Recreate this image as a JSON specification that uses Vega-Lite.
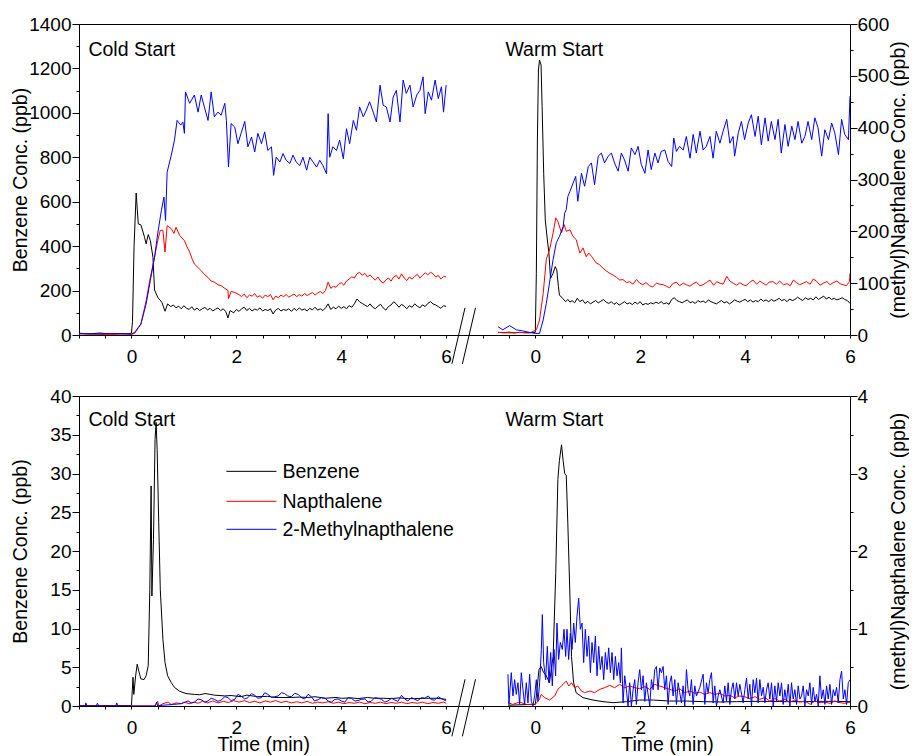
{
"$schema":"https://vega.github.io/schema/vega-lite/v6.json",
"autosize":{"type":"pad"},
"padding":{"left":10,"top":14,"right":0,"bottom":0},
"background":"white",
"bounds":"flush",
"spacing":61,
"resolve":{"scale":{"color":"independent"}},
"config":{
 "font":"Liberation Sans",
 "view":{"stroke":"black","strokeWidth":1},
 "axis":{"domainColor":"black","tickColor":"black","labelColor":"black","titleColor":"black","grid":false,"labelFontSize":19,"titleFontSize":19.5,"titleFontWeight":"normal","labelFont":"Liberation Sans","titleFont":"Liberation Sans","domainWidth":1,"tickWidth":1}
},
"datasets":{
"top":[
{"w":0,"s":"B","t":-1,"v":8},{"w":0,"s":"B","t":-0.8,"v":5},{"w":0,"s":"B","t":-0.6,"v":9},{"w":0,"s":"B","t":-0.4,"v":4},{"w":0,"s":"B","t":-0.2,"v":7},{"w":0,"s":"B","t":-0.05,"v":6},{"w":0,"s":"B","t":0,"v":8},{"w":0,"s":"B","t":0.02,"v":60},{"w":0,"s":"B","t":0.05,"v":400},{"w":0,"s":"B","t":0.09,"v":639},{"w":0,"s":"B","t":0.13,"v":500},{"w":0,"s":"B","t":0.18,"v":496},{"w":0,"s":"B","t":0.25,"v":440},{"w":0,"s":"B","t":0.28,"v":410},{"w":0,"s":"B","t":0.32,"v":452},{"w":0,"s":"B","t":0.36,"v":425},{"w":0,"s":"B","t":0.41,"v":350},{"w":0,"s":"B","t":0.44,"v":203},{"w":0,"s":"B","t":0.5,"v":170},{"w":0,"s":"B","t":0.58,"v":147},{"w":0,"s":"B","t":0.64,"v":107},{"w":0,"s":"B","t":0.69,"v":140},
{"w":0,"s":"B","t":0.75,"v":128},{"w":0,"s":"B","t":0.8,"v":135},{"w":0,"s":"B","t":0.85,"v":122},{"w":0,"s":"B","t":0.9,"v":130},{"w":0,"s":"B","t":0.95,"v":118},{"w":0,"s":"B","t":1.0,"v":132},{"w":0,"s":"B","t":1.05,"v":120},{"w":0,"s":"B","t":1.1,"v":115},{"w":0,"s":"B","t":1.15,"v":127},{"w":0,"s":"B","t":1.2,"v":112},{"w":0,"s":"B","t":1.25,"v":121},{"w":0,"s":"B","t":1.3,"v":110},{"w":0,"s":"B","t":1.35,"v":118},{"w":0,"s":"B","t":1.4,"v":124},{"w":0,"s":"B","t":1.45,"v":113},{"w":0,"s":"B","t":1.5,"v":120},{"w":0,"s":"B","t":1.55,"v":108},{"w":0,"s":"B","t":1.6,"v":116},{"w":0,"s":"B","t":1.65,"v":122},{"w":0,"s":"B","t":1.7,"v":110},{"w":0,"s":"B","t":1.75,"v":118},{"w":0,"s":"B","t":1.8,"v":105},{"w":0,"s":"B","t":1.84,"v":77},{"w":0,"s":"B","t":1.88,"v":110},{"w":0,"s":"B","t":1.95,"v":100},{"w":0,"s":"B","t":2.0,"v":115},{"w":0,"s":"B","t":2.05,"v":106},{"w":0,"s":"B","t":2.1,"v":118},{"w":0,"s":"B","t":2.15,"v":125},{"w":0,"s":"B","t":2.2,"v":110},{"w":0,"s":"B","t":2.25,"v":120},{"w":0,"s":"B","t":2.3,"v":108},{"w":0,"s":"B","t":2.35,"v":117},{"w":0,"s":"B","t":2.4,"v":112},{"w":0,"s":"B","t":2.45,"v":122},{"w":0,"s":"B","t":2.5,"v":108},{"w":0,"s":"B","t":2.55,"v":115},{"w":0,"s":"B","t":2.6,"v":110},{"w":0,"s":"B","t":2.65,"v":118},{"w":0,"s":"B","t":2.7,"v":95},{"w":0,"s":"B","t":2.75,"v":112},{"w":0,"s":"B","t":2.8,"v":120},{"w":0,"s":"B","t":2.85,"v":108},{"w":0,"s":"B","t":2.9,"v":115},{"w":0,"s":"B","t":2.95,"v":111},{"w":0,"s":"B","t":3.0,"v":118},{"w":0,"s":"B","t":3.05,"v":106},{"w":0,"s":"B","t":3.1,"v":120},{"w":0,"s":"B","t":3.15,"v":110},{"w":0,"s":"B","t":3.2,"v":122},{"w":0,"s":"B","t":3.25,"v":112},{"w":0,"s":"B","t":3.3,"v":117},{"w":0,"s":"B","t":3.35,"v":108},{"w":0,"s":"B","t":3.4,"v":120},{"w":0,"s":"B","t":3.45,"v":113},{"w":0,"s":"B","t":3.5,"v":125},{"w":0,"s":"B","t":3.55,"v":112},{"w":0,"s":"B","t":3.6,"v":118},{"w":0,"s":"B","t":3.65,"v":110},{"w":0,"s":"B","t":3.7,"v":122},{"w":0,"s":"B","t":3.75,"v":140},{"w":0,"s":"B","t":3.8,"v":115},{"w":0,"s":"B","t":3.85,"v":125},{"w":0,"s":"B","t":3.9,"v":118},{"w":0,"s":"B","t":3.95,"v":130},{"w":0,"s":"B","t":4.0,"v":120},{"w":0,"s":"B","t":4.05,"v":128},{"w":0,"s":"B","t":4.1,"v":118},{"w":0,"s":"B","t":4.15,"v":132},{"w":0,"s":"B","t":4.2,"v":125},{"w":0,"s":"B","t":4.25,"v":140},{"w":0,"s":"B","t":4.3,"v":162},{"w":0,"s":"B","t":4.35,"v":150},{"w":0,"s":"B","t":4.4,"v":142},{"w":0,"s":"B","t":4.45,"v":135},{"w":0,"s":"B","t":4.5,"v":128},{"w":0,"s":"B","t":4.55,"v":140},{"w":0,"s":"B","t":4.6,"v":125},{"w":0,"s":"B","t":4.65,"v":118},{"w":0,"s":"B","t":4.7,"v":130},{"w":0,"s":"B","t":4.75,"v":138},{"w":0,"s":"B","t":4.8,"v":122},{"w":0,"s":"B","t":4.85,"v":112},{"w":0,"s":"B","t":4.9,"v":128},{"w":0,"s":"B","t":4.95,"v":135},{"w":0,"s":"B","t":5.0,"v":150},{"w":0,"s":"B","t":5.05,"v":140},{"w":0,"s":"B","t":5.1,"v":125},{"w":0,"s":"B","t":5.15,"v":138},{"w":0,"s":"B","t":5.2,"v":130},{"w":0,"s":"B","t":5.25,"v":118},{"w":0,"s":"B","t":5.3,"v":132},{"w":0,"s":"B","t":5.35,"v":125},{"w":0,"s":"B","t":5.4,"v":140},{"w":0,"s":"B","t":5.45,"v":130},{"w":0,"s":"B","t":5.5,"v":122},{"w":0,"s":"B","t":5.55,"v":136},{"w":0,"s":"B","t":5.6,"v":128},{"w":0,"s":"B","t":5.65,"v":142},{"w":0,"s":"B","t":5.7,"v":150},{"w":0,"s":"B","t":5.75,"v":140},{"w":0,"s":"B","t":5.8,"v":135},{"w":0,"s":"B","t":5.85,"v":128},{"w":0,"s":"B","t":5.9,"v":120},{"w":0,"s":"B","t":5.95,"v":132},{"w":0,"s":"B","t":6.0,"v":129},
{"w":0,"s":"N","t":-1,"v":2},{"w":0,"s":"N","t":-0.5,"v":1},{"w":0,"s":"N","t":-0.1,"v":2},{"w":0,"s":"N","t":0,"v":1},{"w":0,"s":"N","t":0.06,"v":3},{"w":0,"s":"N","t":0.18,"v":21},{"w":0,"s":"N","t":0.28,"v":66},{"w":0,"s":"N","t":0.36,"v":111},{"w":0,"s":"N","t":0.44,"v":150},{"w":0,"s":"N","t":0.5,"v":182},{"w":0,"s":"N","t":0.55,"v":202},{"w":0,"s":"N","t":0.6,"v":202},{"w":0,"s":"N","t":0.64,"v":160},{"w":0,"s":"N","t":0.68,"v":211},{"w":0,"s":"N","t":0.76,"v":205},{"w":0,"s":"N","t":0.81,"v":196},{"w":0,"s":"N","t":0.85,"v":208},{"w":0,"s":"N","t":0.92,"v":192},{"w":0,"s":"N","t":1.01,"v":182},{"w":0,"s":"N","t":1.06,"v":170},{"w":0,"s":"N","t":1.11,"v":160},{"w":0,"s":"N","t":1.16,"v":146},{"w":0,"s":"N","t":1.2,"v":137},{"w":0,"s":"N","t":1.27,"v":130},{"w":0,"s":"N","t":1.33,"v":124},{"w":0,"s":"N","t":1.4,"v":116},{"w":0,"s":"N","t":1.46,"v":111},{"w":0,"s":"N","t":1.52,"v":104},{"w":0,"s":"N","t":1.58,"v":102},{"w":0,"s":"N","t":1.65,"v":97},{"w":0,"s":"N","t":1.71,"v":95},{"w":0,"s":"N","t":1.78,"v":90},{"w":0,"s":"N","t":1.84,"v":86},{"w":0,"s":"N","t":1.85,"v":70},{"w":0,"s":"N","t":1.9,"v":84},{"w":0,"s":"N","t":1.97,"v":82},
{"w":0,"s":"N","t":2.05,"v":78},{"w":0,"s":"N","t":2.1,"v":74},{"w":0,"s":"N","t":2.15,"v":79},{"w":0,"s":"N","t":2.2,"v":72},{"w":0,"s":"N","t":2.25,"v":77},{"w":0,"s":"N","t":2.3,"v":75},{"w":0,"s":"N","t":2.35,"v":80},{"w":0,"s":"N","t":2.4,"v":73},{"w":0,"s":"N","t":2.45,"v":76},{"w":0,"s":"N","t":2.5,"v":71},{"w":0,"s":"N","t":2.55,"v":77},{"w":0,"s":"N","t":2.6,"v":74},{"w":0,"s":"N","t":2.65,"v":78},{"w":0,"s":"N","t":2.7,"v":68},{"w":0,"s":"N","t":2.75,"v":75},{"w":0,"s":"N","t":2.8,"v":72},{"w":0,"s":"N","t":2.85,"v":77},{"w":0,"s":"N","t":2.9,"v":74},{"w":0,"s":"N","t":2.95,"v":78},{"w":0,"s":"N","t":3.0,"v":73},{"w":0,"s":"N","t":3.05,"v":76},{"w":0,"s":"N","t":3.1,"v":79},{"w":0,"s":"N","t":3.15,"v":74},{"w":0,"s":"N","t":3.2,"v":78},{"w":0,"s":"N","t":3.25,"v":75},{"w":0,"s":"N","t":3.3,"v":80},{"w":0,"s":"N","t":3.35,"v":76},{"w":0,"s":"N","t":3.4,"v":79},{"w":0,"s":"N","t":3.45,"v":82},{"w":0,"s":"N","t":3.5,"v":77},{"w":0,"s":"N","t":3.55,"v":81},{"w":0,"s":"N","t":3.6,"v":84},{"w":0,"s":"N","t":3.65,"v":80},{"w":0,"s":"N","t":3.7,"v":86},{"w":0,"s":"N","t":3.75,"v":102},{"w":0,"s":"N","t":3.8,"v":90},{"w":0,"s":"N","t":3.85,"v":94},{"w":0,"s":"N","t":3.9,"v":92},{"w":0,"s":"N","t":3.95,"v":98},{"w":0,"s":"N","t":4.0,"v":101},{"w":0,"s":"N","t":4.05,"v":96},{"w":0,"s":"N","t":4.1,"v":104},{"w":0,"s":"N","t":4.15,"v":108},{"w":0,"s":"N","t":4.2,"v":112},{"w":0,"s":"N","t":4.25,"v":110},{"w":0,"s":"N","t":4.3,"v":118},{"w":0,"s":"N","t":4.35,"v":121},{"w":0,"s":"N","t":4.4,"v":115},{"w":0,"s":"N","t":4.45,"v":119},{"w":0,"s":"N","t":4.5,"v":112},{"w":0,"s":"N","t":4.55,"v":116},{"w":0,"s":"N","t":4.6,"v":110},{"w":0,"s":"N","t":4.65,"v":106},{"w":0,"s":"N","t":4.7,"v":112},{"w":0,"s":"N","t":4.75,"v":104},{"w":0,"s":"N","t":4.8,"v":100},{"w":0,"s":"N","t":4.85,"v":106},{"w":0,"s":"N","t":4.9,"v":110},{"w":0,"s":"N","t":4.95,"v":104},{"w":0,"s":"N","t":5.0,"v":112},{"w":0,"s":"N","t":5.05,"v":115},{"w":0,"s":"N","t":5.1,"v":108},{"w":0,"s":"N","t":5.15,"v":118},{"w":0,"s":"N","t":5.2,"v":110},{"w":0,"s":"N","t":5.25,"v":105},{"w":0,"s":"N","t":5.3,"v":112},{"w":0,"s":"N","t":5.35,"v":108},{"w":0,"s":"N","t":5.4,"v":113},{"w":0,"s":"N","t":5.45,"v":117},{"w":0,"s":"N","t":5.5,"v":110},{"w":0,"s":"N","t":5.55,"v":115},{"w":0,"s":"N","t":5.6,"v":120},{"w":0,"s":"N","t":5.65,"v":116},{"w":0,"s":"N","t":5.7,"v":121},{"w":0,"s":"N","t":5.75,"v":118},{"w":0,"s":"N","t":5.8,"v":112},{"w":0,"s":"N","t":5.85,"v":115},{"w":0,"s":"N","t":5.9,"v":108},{"w":0,"s":"N","t":5.95,"v":113},{"w":0,"s":"N","t":6.0,"v":112},
{"w":0,"s":"M","t":-1,"v":3},{"w":0,"s":"M","t":-0.7,"v":2},{"w":0,"s":"M","t":-0.4,"v":3},{"w":0,"s":"M","t":-0.1,"v":2},{"w":0,"s":"M","t":0,"v":2},{"w":0,"s":"M","t":0.06,"v":5},{"w":0,"s":"M","t":0.18,"v":21},{"w":0,"s":"M","t":0.28,"v":60},{"w":0,"s":"M","t":0.36,"v":105},{"w":0,"s":"M","t":0.44,"v":150},{"w":0,"s":"M","t":0.5,"v":195},{"w":0,"s":"M","t":0.57,"v":240},{"w":0,"s":"M","t":0.62,"v":266},{"w":0,"s":"M","t":0.65,"v":221},{"w":0,"s":"M","t":0.68,"v":314},{"w":0,"s":"M","t":0.76,"v":347},{"w":0,"s":"M","t":0.82,"v":376},{"w":0,"s":"M","t":0.87,"v":414},{"w":0,"s":"M","t":0.94,"v":405},{"w":0,"s":"M","t":0.98,"v":411},{"w":0,"s":"M","t":1.01,"v":389},{"w":0,"s":"M","t":1.03,"v":469},{"w":0,"s":"M","t":1.11,"v":447},{"w":0,"s":"M","t":1.2,"v":463},{"w":0,"s":"M","t":1.27,"v":430},{"w":0,"s":"M","t":1.33,"v":463},{"w":0,"s":"M","t":1.39,"v":440},{"w":0,"s":"M","t":1.46,"v":414},{"w":0,"s":"M","t":1.52,"v":469},{"w":0,"s":"M","t":1.58,"v":421},{"w":0,"s":"M","t":1.65,"v":430},{"w":0,"s":"M","t":1.71,"v":424},{"w":0,"s":"M","t":1.78,"v":447},{"w":0,"s":"M","t":1.81,"v":414},{"w":0,"s":"M","t":1.85,"v":324},{"w":0,"s":"M","t":1.9,"v":408},{"w":0,"s":"M","t":1.97,"v":401},{"w":0,"s":"M","t":2.03,"v":369},{"w":0,"s":"M","t":2.09,"v":389},{"w":0,"s":"M","t":2.16,"v":412},{"w":0,"s":"M","t":2.22,"v":363},{"w":0,"s":"M","t":2.29,"v":382},{"w":0,"s":"M","t":2.35,"v":353},{"w":0,"s":"M","t":2.41,"v":389},{"w":0,"s":"M","t":2.48,"v":369},{"w":0,"s":"M","t":2.54,"v":392},{"w":0,"s":"M","t":2.6,"v":356},{"w":0,"s":"M","t":2.67,"v":363},{"w":0,"s":"M","t":2.71,"v":308},{"w":0,"s":"M","t":2.76,"v":343},{"w":0,"s":"M","t":2.83,"v":334},{"w":0,"s":"M","t":2.89,"v":350},{"w":0,"s":"M","t":2.95,"v":337},{"w":0,"s":"M","t":3.02,"v":331},{"w":0,"s":"M","t":3.08,"v":347},{"w":0,"s":"M","t":3.14,"v":334},{"w":0,"s":"M","t":3.21,"v":327},{"w":0,"s":"M","t":3.27,"v":343},{"w":0,"s":"M","t":3.34,"v":318},{"w":0,"s":"M","t":3.4,"v":343},{"w":0,"s":"M","t":3.46,"v":334},{"w":0,"s":"M","t":3.53,"v":324},{"w":0,"s":"M","t":3.59,"v":337},{"w":0,"s":"M","t":3.65,"v":327},{"w":0,"s":"M","t":3.72,"v":311},{"w":0,"s":"M","t":3.75,"v":427},{"w":0,"s":"M","t":3.78,"v":343},{"w":0,"s":"M","t":3.84,"v":363},{"w":0,"s":"M","t":3.91,"v":356},{"w":0,"s":"M","t":3.97,"v":376},{"w":0,"s":"M","t":4.04,"v":340},{"w":0,"s":"M","t":4.1,"v":398},{"w":0,"s":"M","t":4.16,"v":369},{"w":0,"s":"M","t":4.23,"v":414},{"w":0,"s":"M","t":4.29,"v":395},{"w":0,"s":"M","t":4.35,"v":440},{"w":0,"s":"M","t":4.42,"v":421},{"w":0,"s":"M","t":4.48,"v":434},{"w":0,"s":"M","t":4.54,"v":450},{"w":0,"s":"M","t":4.61,"v":430},{"w":0,"s":"M","t":4.67,"v":411},{"w":0,"s":"M","t":4.74,"v":482},{"w":0,"s":"M","t":4.8,"v":443},{"w":0,"s":"M","t":4.86,"v":440},{"w":0,"s":"M","t":4.93,"v":411},{"w":0,"s":"M","t":4.99,"v":459},{"w":0,"s":"M","t":5.05,"v":472},{"w":0,"s":"M","t":5.12,"v":411},{"w":0,"s":"M","t":5.18,"v":492},{"w":0,"s":"M","t":5.24,"v":466},{"w":0,"s":"M","t":5.31,"v":482},{"w":0,"s":"M","t":5.37,"v":440},{"w":0,"s":"M","t":5.44,"v":463},{"w":0,"s":"M","t":5.5,"v":472},{"w":0,"s":"M","t":5.56,"v":498},{"w":0,"s":"M","t":5.6,"v":427},{"w":0,"s":"M","t":5.66,"v":469},{"w":0,"s":"M","t":5.72,"v":453},{"w":0,"s":"M","t":5.79,"v":492},{"w":0,"s":"M","t":5.85,"v":456},{"w":0,"s":"M","t":5.91,"v":479},{"w":0,"s":"M","t":5.95,"v":430},{"w":0,"s":"M","t":6.0,"v":482},
{"w":1,"s":"B","t":-0.71,"v":12},{"w":1,"s":"B","t":-0.6,"v":10},{"w":1,"s":"B","t":-0.5,"v":13},{"w":1,"s":"B","t":-0.4,"v":9},{"w":1,"s":"B","t":-0.3,"v":12},{"w":1,"s":"B","t":-0.2,"v":10},{"w":1,"s":"B","t":-0.1,"v":11},{"w":1,"s":"B","t":0,"v":12},{"w":1,"s":"B","t":0.02,"v":278},{"w":1,"s":"B","t":0.04,"v":878},{"w":1,"s":"B","t":0.06,"v":1193},{"w":1,"s":"B","t":0.08,"v":1238},{"w":1,"s":"B","t":0.11,"v":1215},{"w":1,"s":"B","t":0.13,"v":1028},{"w":1,"s":"B","t":0.16,"v":728},{"w":1,"s":"B","t":0.19,"v":518},{"w":1,"s":"B","t":0.23,"v":428},{"w":1,"s":"B","t":0.26,"v":368},{"w":1,"s":"B","t":0.29,"v":255},{"w":1,"s":"B","t":0.34,"v":278},{"w":1,"s":"B","t":0.38,"v":308},{"w":1,"s":"B","t":0.41,"v":293},{"w":1,"s":"B","t":0.44,"v":218},{"w":1,"s":"B","t":0.46,"v":180},{"w":1,"s":"B","t":0.52,"v":165},
{"w":1,"s":"B","t":0.58,"v":150},{"w":1,"s":"B","t":0.62,"v":160},{"w":1,"s":"B","t":0.66,"v":148},{"w":1,"s":"B","t":0.7,"v":155},{"w":1,"s":"B","t":0.75,"v":145},{"w":1,"s":"B","t":0.8,"v":165},{"w":1,"s":"B","t":0.85,"v":150},{"w":1,"s":"B","t":0.9,"v":158},{"w":1,"s":"B","t":0.95,"v":142},{"w":1,"s":"B","t":1.0,"v":152},{"w":1,"s":"B","t":1.05,"v":140},{"w":1,"s":"B","t":1.1,"v":148},{"w":1,"s":"B","t":1.15,"v":155},{"w":1,"s":"B","t":1.2,"v":145},{"w":1,"s":"B","t":1.25,"v":152},{"w":1,"s":"B","t":1.3,"v":160},{"w":1,"s":"B","t":1.35,"v":148},{"w":1,"s":"B","t":1.4,"v":142},{"w":1,"s":"B","t":1.45,"v":150},{"w":1,"s":"B","t":1.5,"v":138},{"w":1,"s":"B","t":1.55,"v":146},{"w":1,"s":"B","t":1.6,"v":135},{"w":1,"s":"B","t":1.65,"v":142},{"w":1,"s":"B","t":1.7,"v":150},{"w":1,"s":"B","t":1.75,"v":140},{"w":1,"s":"B","t":1.8,"v":145},{"w":1,"s":"B","t":1.85,"v":137},{"w":1,"s":"B","t":1.9,"v":148},{"w":1,"s":"B","t":1.95,"v":140},{"w":1,"s":"B","t":2.0,"v":150},{"w":1,"s":"B","t":2.05,"v":135},{"w":1,"s":"B","t":2.1,"v":142},{"w":1,"s":"B","t":2.15,"v":138},{"w":1,"s":"B","t":2.2,"v":145},{"w":1,"s":"B","t":2.25,"v":140},{"w":1,"s":"B","t":2.3,"v":148},{"w":1,"s":"B","t":2.35,"v":142},{"w":1,"s":"B","t":2.4,"v":150},{"w":1,"s":"B","t":2.45,"v":140},{"w":1,"s":"B","t":2.5,"v":145},{"w":1,"s":"B","t":2.55,"v":138},{"w":1,"s":"B","t":2.6,"v":160},{"w":1,"s":"B","t":2.65,"v":168},{"w":1,"s":"B","t":2.7,"v":155},{"w":1,"s":"B","t":2.75,"v":150},{"w":1,"s":"B","t":2.8,"v":145},{"w":1,"s":"B","t":2.85,"v":152},{"w":1,"s":"B","t":2.9,"v":158},{"w":1,"s":"B","t":2.95,"v":145},{"w":1,"s":"B","t":3.0,"v":150},{"w":1,"s":"B","t":3.05,"v":142},{"w":1,"s":"B","t":3.1,"v":155},{"w":1,"s":"B","t":3.15,"v":148},{"w":1,"s":"B","t":3.2,"v":153},{"w":1,"s":"B","t":3.25,"v":145},{"w":1,"s":"B","t":3.3,"v":158},{"w":1,"s":"B","t":3.35,"v":150},{"w":1,"s":"B","t":3.4,"v":145},{"w":1,"s":"B","t":3.45,"v":140},{"w":1,"s":"B","t":3.5,"v":148},{"w":1,"s":"B","t":3.55,"v":155},{"w":1,"s":"B","t":3.6,"v":145},{"w":1,"s":"B","t":3.65,"v":150},{"w":1,"s":"B","t":3.7,"v":140},{"w":1,"s":"B","t":3.75,"v":148},{"w":1,"s":"B","t":3.8,"v":158},{"w":1,"s":"B","t":3.85,"v":152},{"w":1,"s":"B","t":3.9,"v":148},{"w":1,"s":"B","t":3.95,"v":155},{"w":1,"s":"B","t":4.0,"v":160},{"w":1,"s":"B","t":4.05,"v":150},{"w":1,"s":"B","t":4.1,"v":158},{"w":1,"s":"B","t":4.15,"v":148},{"w":1,"s":"B","t":4.2,"v":155},{"w":1,"s":"B","t":4.25,"v":150},{"w":1,"s":"B","t":4.3,"v":162},{"w":1,"s":"B","t":4.35,"v":152},{"w":1,"s":"B","t":4.4,"v":158},{"w":1,"s":"B","t":4.45,"v":150},{"w":1,"s":"B","t":4.5,"v":160},{"w":1,"s":"B","t":4.55,"v":152},{"w":1,"s":"B","t":4.6,"v":158},{"w":1,"s":"B","t":4.65,"v":165},{"w":1,"s":"B","t":4.7,"v":155},{"w":1,"s":"B","t":4.75,"v":160},{"w":1,"s":"B","t":4.8,"v":150},{"w":1,"s":"B","t":4.85,"v":162},{"w":1,"s":"B","t":4.9,"v":155},{"w":1,"s":"B","t":4.95,"v":160},{"w":1,"s":"B","t":5.0,"v":170},{"w":1,"s":"B","t":5.05,"v":162},{"w":1,"s":"B","t":5.1,"v":155},{"w":1,"s":"B","t":5.15,"v":168},{"w":1,"s":"B","t":5.2,"v":160},{"w":1,"s":"B","t":5.25,"v":165},{"w":1,"s":"B","t":5.3,"v":158},{"w":1,"s":"B","t":5.35,"v":172},{"w":1,"s":"B","t":5.4,"v":160},{"w":1,"s":"B","t":5.45,"v":168},{"w":1,"s":"B","t":5.5,"v":175},{"w":1,"s":"B","t":5.55,"v":162},{"w":1,"s":"B","t":5.6,"v":170},{"w":1,"s":"B","t":5.65,"v":160},{"w":1,"s":"B","t":5.7,"v":165},{"w":1,"s":"B","t":5.75,"v":158},{"w":1,"s":"B","t":5.8,"v":162},{"w":1,"s":"B","t":5.85,"v":168},{"w":1,"s":"B","t":5.9,"v":160},{"w":1,"s":"B","t":5.95,"v":155},{"w":1,"s":"B","t":6.0,"v":142},
{"w":1,"s":"N","t":-0.71,"v":5},{"w":1,"s":"N","t":-0.5,"v":4},{"w":1,"s":"N","t":-0.3,"v":5},{"w":1,"s":"N","t":-0.1,"v":4},{"w":1,"s":"N","t":0.02,"v":10},{"w":1,"s":"N","t":0.08,"v":29},{"w":1,"s":"N","t":0.15,"v":80},{"w":1,"s":"N","t":0.21,"v":146},{"w":1,"s":"N","t":0.27,"v":164},{"w":1,"s":"N","t":0.34,"v":197},{"w":1,"s":"N","t":0.39,"v":226},{"w":1,"s":"N","t":0.43,"v":219},{"w":1,"s":"N","t":0.5,"v":197},{"w":1,"s":"N","t":0.55,"v":213},{"w":1,"s":"N","t":0.59,"v":200},{"w":1,"s":"N","t":0.66,"v":203},{"w":1,"s":"N","t":0.72,"v":190},{"w":1,"s":"N","t":0.78,"v":184},{"w":1,"s":"N","t":0.85,"v":158},{"w":1,"s":"N","t":0.91,"v":168},{"w":1,"s":"N","t":0.97,"v":151},{"w":1,"s":"N","t":1.02,"v":158},{"w":1,"s":"N","t":1.07,"v":152},{"w":1,"s":"N","t":1.16,"v":139},{"w":1,"s":"N","t":1.22,"v":136},{"w":1,"s":"N","t":1.29,"v":129},{"w":1,"s":"N","t":1.35,"v":124},{"w":1,"s":"N","t":1.42,"v":119},{"w":1,"s":"N","t":1.48,"v":116},{"w":1,"s":"N","t":1.55,"v":111},{"w":1,"s":"N","t":1.61,"v":106},{"w":1,"s":"N","t":1.67,"v":107},{"w":1,"s":"N","t":1.74,"v":101},{"w":1,"s":"N","t":1.8,"v":103},{"w":1,"s":"N","t":1.86,"v":98},{"w":1,"s":"N","t":1.93,"v":107},{"w":1,"s":"N","t":1.99,"v":100},{"w":1,"s":"N","t":2.05,"v":97},{"w":1,"s":"N","t":2.11,"v":101},{"w":1,"s":"N","t":2.18,"v":95},{"w":1,"s":"N","t":2.24,"v":93},{"w":1,"s":"N","t":2.31,"v":100},{"w":1,"s":"N","t":2.37,"v":98},{"w":1,"s":"N","t":2.44,"v":97},{"w":1,"s":"N","t":2.5,"v":94},{"w":1,"s":"N","t":2.56,"v":91},{"w":1,"s":"N","t":2.62,"v":99},{"w":1,"s":"N","t":2.69,"v":102},{"w":1,"s":"N","t":2.75,"v":95},{"w":1,"s":"N","t":2.82,"v":100},{"w":1,"s":"N","t":2.88,"v":97},{"w":1,"s":"N","t":2.95,"v":94},{"w":1,"s":"N","t":3.01,"v":99},{"w":1,"s":"N","t":3.07,"v":102},{"w":1,"s":"N","t":3.14,"v":95},{"w":1,"s":"N","t":3.2,"v":97},{"w":1,"s":"N","t":3.26,"v":101},{"w":1,"s":"N","t":3.33,"v":106},{"w":1,"s":"N","t":3.4,"v":96},{"w":1,"s":"N","t":3.46,"v":103},{"w":1,"s":"N","t":3.52,"v":100},{"w":1,"s":"N","t":3.58,"v":98},{"w":1,"s":"N","t":3.65,"v":113},{"w":1,"s":"N","t":3.71,"v":104},{"w":1,"s":"N","t":3.77,"v":100},{"w":1,"s":"N","t":3.84,"v":96},{"w":1,"s":"N","t":3.9,"v":101},{"w":1,"s":"N","t":3.96,"v":97},{"w":1,"s":"N","t":4.02,"v":95},{"w":1,"s":"N","t":4.08,"v":101},{"w":1,"s":"N","t":4.15,"v":106},{"w":1,"s":"N","t":4.22,"v":98},{"w":1,"s":"N","t":4.28,"v":104},{"w":1,"s":"N","t":4.34,"v":100},{"w":1,"s":"N","t":4.4,"v":96},{"w":1,"s":"N","t":4.46,"v":102},{"w":1,"s":"N","t":4.53,"v":103},{"w":1,"s":"N","t":4.6,"v":98},{"w":1,"s":"N","t":4.66,"v":104},{"w":1,"s":"N","t":4.73,"v":97},{"w":1,"s":"N","t":4.8,"v":99},{"w":1,"s":"N","t":4.86,"v":95},{"w":1,"s":"N","t":4.92,"v":106},{"w":1,"s":"N","t":4.98,"v":101},{"w":1,"s":"N","t":5.04,"v":97},{"w":1,"s":"N","t":5.11,"v":100},{"w":1,"s":"N","t":5.17,"v":103},{"w":1,"s":"N","t":5.24,"v":98},{"w":1,"s":"N","t":5.3,"v":108},{"w":1,"s":"N","t":5.36,"v":104},{"w":1,"s":"N","t":5.43,"v":96},{"w":1,"s":"N","t":5.49,"v":100},{"w":1,"s":"N","t":5.56,"v":103},{"w":1,"s":"N","t":5.62,"v":97},{"w":1,"s":"N","t":5.68,"v":101},{"w":1,"s":"N","t":5.75,"v":104},{"w":1,"s":"N","t":5.81,"v":99},{"w":1,"s":"N","t":5.87,"v":97},{"w":1,"s":"N","t":5.93,"v":95},{"w":1,"s":"N","t":5.99,"v":103},{"w":1,"s":"N","t":6.0,"v":119},
{"w":1,"s":"M","t":-0.71,"v":16},{"w":1,"s":"M","t":-0.62,"v":10},{"w":1,"s":"M","t":-0.49,"v":18},{"w":1,"s":"M","t":-0.36,"v":10},{"w":1,"s":"M","t":-0.24,"v":8},{"w":1,"s":"M","t":-0.11,"v":5},{"w":1,"s":"M","t":0,"v":3},{"w":1,"s":"M","t":0.08,"v":3},{"w":1,"s":"M","t":0.15,"v":29},{"w":1,"s":"M","t":0.21,"v":61},{"w":1,"s":"M","t":0.27,"v":100},{"w":1,"s":"M","t":0.34,"v":146},{"w":1,"s":"M","t":0.4,"v":178},{"w":1,"s":"M","t":0.46,"v":190},{"w":1,"s":"M","t":0.53,"v":209},{"w":1,"s":"M","t":0.56,"v":235},{"w":1,"s":"M","t":0.59,"v":242},{"w":1,"s":"M","t":0.62,"v":267},{"w":1,"s":"M","t":0.66,"v":277},{"w":1,"s":"M","t":0.72,"v":293},{"w":1,"s":"M","t":0.77,"v":306},{"w":1,"s":"M","t":0.81,"v":258},{"w":1,"s":"M","t":0.88,"v":312},{"w":1,"s":"M","t":0.94,"v":287},{"w":1,"s":"M","t":1.01,"v":325},{"w":1,"s":"M","t":1.07,"v":332},{"w":1,"s":"M","t":1.13,"v":290},{"w":1,"s":"M","t":1.2,"v":345},{"w":1,"s":"M","t":1.26,"v":351},{"w":1,"s":"M","t":1.32,"v":332},{"w":1,"s":"M","t":1.39,"v":345},{"w":1,"s":"M","t":1.45,"v":351},{"w":1,"s":"M","t":1.51,"v":332},{"w":1,"s":"M","t":1.58,"v":316},{"w":1,"s":"M","t":1.64,"v":351},{"w":1,"s":"M","t":1.7,"v":338},{"w":1,"s":"M","t":1.77,"v":316},{"w":1,"s":"M","t":1.83,"v":361},{"w":1,"s":"M","t":1.9,"v":348},{"w":1,"s":"M","t":1.96,"v":364},{"w":1,"s":"M","t":2.02,"v":329},{"w":1,"s":"M","t":2.09,"v":312},{"w":1,"s":"M","t":2.15,"v":357},{"w":1,"s":"M","t":2.21,"v":319},{"w":1,"s":"M","t":2.28,"v":351},{"w":1,"s":"M","t":2.34,"v":332},{"w":1,"s":"M","t":2.4,"v":354},{"w":1,"s":"M","t":2.47,"v":357},{"w":1,"s":"M","t":2.53,"v":335},{"w":1,"s":"M","t":2.6,"v":325},{"w":1,"s":"M","t":2.64,"v":380},{"w":1,"s":"M","t":2.69,"v":354},{"w":1,"s":"M","t":2.75,"v":364},{"w":1,"s":"M","t":2.82,"v":357},{"w":1,"s":"M","t":2.88,"v":383},{"w":1,"s":"M","t":2.95,"v":341},{"w":1,"s":"M","t":3.01,"v":387},{"w":1,"s":"M","t":3.07,"v":351},{"w":1,"s":"M","t":3.14,"v":393},{"w":1,"s":"M","t":3.2,"v":357},{"w":1,"s":"M","t":3.26,"v":364},{"w":1,"s":"M","t":3.33,"v":383},{"w":1,"s":"M","t":3.39,"v":341},{"w":1,"s":"M","t":3.45,"v":393},{"w":1,"s":"M","t":3.52,"v":370},{"w":1,"s":"M","t":3.58,"v":393},{"w":1,"s":"M","t":3.65,"v":416},{"w":1,"s":"M","t":3.71,"v":370},{"w":1,"s":"M","t":3.77,"v":383},{"w":1,"s":"M","t":3.8,"v":345},{"w":1,"s":"M","t":3.87,"v":390},{"w":1,"s":"M","t":3.93,"v":412},{"w":1,"s":"M","t":3.99,"v":377},{"w":1,"s":"M","t":4.06,"v":409},{"w":1,"s":"M","t":4.12,"v":425},{"w":1,"s":"M","t":4.19,"v":383},{"w":1,"s":"M","t":4.25,"v":422},{"w":1,"s":"M","t":4.31,"v":367},{"w":1,"s":"M","t":4.38,"v":419},{"w":1,"s":"M","t":4.44,"v":374},{"w":1,"s":"M","t":4.5,"v":412},{"w":1,"s":"M","t":4.57,"v":377},{"w":1,"s":"M","t":4.63,"v":416},{"w":1,"s":"M","t":4.69,"v":351},{"w":1,"s":"M","t":4.76,"v":406},{"w":1,"s":"M","t":4.82,"v":364},{"w":1,"s":"M","t":4.89,"v":403},{"w":1,"s":"M","t":4.95,"v":377},{"w":1,"s":"M","t":5.01,"v":412},{"w":1,"s":"M","t":5.08,"v":370},{"w":1,"s":"M","t":5.14,"v":383},{"w":1,"s":"M","t":5.2,"v":412},{"w":1,"s":"M","t":5.27,"v":377},{"w":1,"s":"M","t":5.33,"v":419},{"w":1,"s":"M","t":5.39,"v":400},{"w":1,"s":"M","t":5.46,"v":345},{"w":1,"s":"M","t":5.52,"v":396},{"w":1,"s":"M","t":5.59,"v":377},{"w":1,"s":"M","t":5.65,"v":409},{"w":1,"s":"M","t":5.71,"v":390},{"w":1,"s":"M","t":5.78,"v":348},{"w":1,"s":"M","t":5.84,"v":416},{"w":1,"s":"M","t":5.9,"v":387},{"w":1,"s":"M","t":5.97,"v":377},{"w":1,"s":"M","t":6.0,"v":461}
],
"bot":[
{"w":0,"s":"B","t":-1,"v":0.05},{"w":0,"s":"B","t":-0.5,"v":0.05},{"w":0,"s":"B","t":0,"v":0.05},{"w":0,"s":"B","t":0.03,"v":3.7},{"w":0,"s":"B","t":0.045,"v":1.5},{"w":0,"s":"B","t":0.08,"v":3.9},{"w":0,"s":"B","t":0.11,"v":5.4},{"w":0,"s":"B","t":0.14,"v":4.5},{"w":0,"s":"B","t":0.18,"v":3.5},{"w":0,"s":"B","t":0.24,"v":3.4},{"w":0,"s":"B","t":0.28,"v":3.9},{"w":0,"s":"B","t":0.32,"v":5.2},{"w":0,"s":"B","t":0.35,"v":15},{"w":0,"s":"B","t":0.375,"v":28.4},{"w":0,"s":"B","t":0.39,"v":14.2},{"w":0,"s":"B","t":0.42,"v":21.5},{"w":0,"s":"B","t":0.45,"v":34.4},{"w":0,"s":"B","t":0.47,"v":36.6},{"w":0,"s":"B","t":0.49,"v":33.1},{"w":0,"s":"B","t":0.52,"v":23.7},{"w":0,"s":"B","t":0.55,"v":15},{"w":0,"s":"B","t":0.6,"v":8.6},{"w":0,"s":"B","t":0.64,"v":5.6},{"w":0,"s":"B","t":0.69,"v":3.9},{"w":0,"s":"B","t":0.76,"v":3.0},{"w":0,"s":"B","t":0.82,"v":2.4},{"w":0,"s":"B","t":0.92,"v":1.9},{"w":0,"s":"B","t":1.04,"v":1.6},{"w":0,"s":"B","t":1.2,"v":1.5},{"w":0,"s":"B","t":1.3,"v":1.45},{"w":0,"s":"B","t":1.4,"v":1.6},{"w":0,"s":"B","t":1.46,"v":1.55},{"w":0,"s":"B","t":1.5,"v":1.5},{"w":0,"s":"B","t":1.58,"v":1.4},{"w":0,"s":"B","t":1.78,"v":1.3},{"w":0,"s":"B","t":1.9,"v":1.35},{"w":0,"s":"B","t":2.09,"v":1.2},{"w":0,"s":"B","t":2.2,"v":1.4},{"w":0,"s":"B","t":2.41,"v":1.2},{"w":0,"s":"B","t":2.6,"v":1.25},{"w":0,"s":"B","t":2.73,"v":1.1},{"w":0,"s":"B","t":3.05,"v":1.1},{"w":0,"s":"B","t":3.2,"v":1.15},{"w":0,"s":"B","t":3.37,"v":1.1},{"w":0,"s":"B","t":3.5,"v":1.2},{"w":0,"s":"B","t":3.69,"v":1.0},{"w":0,"s":"B","t":3.9,"v":1.1},{"w":0,"s":"B","t":4.0,"v":1.0},{"w":0,"s":"B","t":4.2,"v":1.05},{"w":0,"s":"B","t":4.32,"v":0.95},{"w":0,"s":"B","t":4.5,"v":1.1},{"w":0,"s":"B","t":4.64,"v":1.0},{"w":0,"s":"B","t":4.8,"v":1.0},{"w":0,"s":"B","t":4.96,"v":0.95},{"w":0,"s":"B","t":5.1,"v":1.05},{"w":0,"s":"B","t":5.28,"v":0.95},{"w":0,"s":"B","t":5.4,"v":0.95},{"w":0,"s":"B","t":5.6,"v":1.0},{"w":0,"s":"B","t":5.8,"v":1.0},{"w":0,"s":"B","t":6.0,"v":0.86},
{"w":0,"s":"N","t":-1,"v":0},{"w":0,"s":"N","t":0,"v":0},{"w":0,"s":"N","t":0.45,"v":0},{"w":0,"s":"N","t":0.5,"v":0.06},{"w":0,"s":"N","t":0.52,"v":0},{"w":0,"s":"N","t":0.6,"v":0.03},{"w":0,"s":"N","t":0.7,"v":0.05},{"w":0,"s":"N","t":0.76,"v":0.02},{"w":0,"s":"N","t":0.85,"v":0.04},{"w":0,"s":"N","t":0.95,"v":0.03},{"w":0,"s":"N","t":1.0,"v":0.05},{"w":0,"s":"N","t":1.1,"v":0.03},{"w":0,"s":"N","t":1.2,"v":0.05},{"w":0,"s":"N","t":1.27,"v":0.035},{"w":0,"s":"N","t":1.35,"v":0.06},{"w":0,"s":"N","t":1.45,"v":0.04},{"w":0,"s":"N","t":1.55,"v":0.065},{"w":0,"s":"N","t":1.65,"v":0.04},{"w":0,"s":"N","t":1.75,"v":0.06},{"w":0,"s":"N","t":1.85,"v":0.045},{"w":0,"s":"N","t":1.95,"v":0.07},{"w":0,"s":"N","t":2.05,"v":0.05},{"w":0,"s":"N","t":2.15,"v":0.07},{"w":0,"s":"N","t":2.25,"v":0.045},{"w":0,"s":"N","t":2.35,"v":0.06},{"w":0,"s":"N","t":2.45,"v":0.04},{"w":0,"s":"N","t":2.55,"v":0.065},{"w":0,"s":"N","t":2.65,"v":0.05},{"w":0,"s":"N","t":2.75,"v":0.07},{"w":0,"s":"N","t":2.85,"v":0.045},{"w":0,"s":"N","t":2.95,"v":0.06},{"w":0,"s":"N","t":3.05,"v":0.04},{"w":0,"s":"N","t":3.15,"v":0.055},{"w":0,"s":"N","t":3.25,"v":0.04},{"w":0,"s":"N","t":3.35,"v":0.06},{"w":0,"s":"N","t":3.45,"v":0.035},{"w":0,"s":"N","t":3.55,"v":0.05},{"w":0,"s":"N","t":3.65,"v":0.04},{"w":0,"s":"N","t":3.75,"v":0.055},{"w":0,"s":"N","t":3.85,"v":0.035},{"w":0,"s":"N","t":3.95,"v":0.05},{"w":0,"s":"N","t":4.05,"v":0.03},{"w":0,"s":"N","t":4.15,"v":0.045},{"w":0,"s":"N","t":4.25,"v":0.035},{"w":0,"s":"N","t":4.35,"v":0.05},{"w":0,"s":"N","t":4.45,"v":0.03},{"w":0,"s":"N","t":4.55,"v":0.045},{"w":0,"s":"N","t":4.65,"v":0.035},{"w":0,"s":"N","t":4.75,"v":0.05},{"w":0,"s":"N","t":4.85,"v":0.03},{"w":0,"s":"N","t":4.95,"v":0.045},{"w":0,"s":"N","t":5.05,"v":0.035},{"w":0,"s":"N","t":5.15,"v":0.05},{"w":0,"s":"N","t":5.25,"v":0.03},{"w":0,"s":"N","t":5.35,"v":0.045},{"w":0,"s":"N","t":5.45,"v":0.035},{"w":0,"s":"N","t":5.55,"v":0.05},{"w":0,"s":"N","t":5.65,"v":0.03},{"w":0,"s":"N","t":5.75,"v":0.045},{"w":0,"s":"N","t":5.85,"v":0.035},{"w":0,"s":"N","t":5.95,"v":0.05},{"w":0,"s":"N","t":6.0,"v":0.035},
{"w":0,"s":"M","t":-1,"v":0},{"w":0,"s":"M","t":-0.88,"v":0},{"w":0,"s":"M","t":-0.87,"v":0.04},{"w":0,"s":"M","t":-0.85,"v":0},{"w":0,"s":"M","t":-0.67,"v":0},{"w":0,"s":"M","t":-0.65,"v":0.035},{"w":0,"s":"M","t":-0.62,"v":0},{"w":0,"s":"M","t":-0.3,"v":0},{"w":0,"s":"M","t":-0.28,"v":0.04},{"w":0,"s":"M","t":-0.26,"v":0},{"w":0,"s":"M","t":0,"v":0},{"w":0,"s":"M","t":0.45,"v":0},{"w":0,"s":"M","t":0.48,"v":0.05},{"w":0,"s":"M","t":0.5,"v":0},{"w":0,"s":"M","t":0.6,"v":0.01},{"w":0,"s":"M","t":0.8,"v":0.02},{"w":0,"s":"M","t":0.95,"v":0.03},{"w":0,"s":"M","t":1.08,"v":0.065},{"w":0,"s":"M","t":1.14,"v":0.04},{"w":0,"s":"M","t":1.2,"v":0.05},{"w":0,"s":"M","t":1.27,"v":0.09},{"w":0,"s":"M","t":1.33,"v":0.08},{"w":0,"s":"M","t":1.4,"v":0.05},{"w":0,"s":"M","t":1.46,"v":0.065},{"w":0,"s":"M","t":1.52,"v":0.1},{"w":0,"s":"M","t":1.58,"v":0.086},{"w":0,"s":"M","t":1.65,"v":0.06},{"w":0,"s":"M","t":1.71,"v":0.077},{"w":0,"s":"M","t":1.78,"v":0.12},{"w":0,"s":"M","t":1.84,"v":0.108},{"w":0,"s":"M","t":1.9,"v":0.07},{"w":0,"s":"M","t":1.97,"v":0.086},{"w":0,"s":"M","t":2.03,"v":0.15},{"w":0,"s":"M","t":2.09,"v":0.129},{"w":0,"s":"M","t":2.16,"v":0.09},{"w":0,"s":"M","t":2.22,"v":0.108},{"w":0,"s":"M","t":2.29,"v":0.16},{"w":0,"s":"M","t":2.35,"v":0.138},{"w":0,"s":"M","t":2.41,"v":0.1},{"w":0,"s":"M","t":2.48,"v":0.108},{"w":0,"s":"M","t":2.54,"v":0.17},{"w":0,"s":"M","t":2.6,"v":0.151},{"w":0,"s":"M","t":2.67,"v":0.11},{"w":0,"s":"M","t":2.73,"v":0.12},{"w":0,"s":"M","t":2.8,"v":0.13},{"w":0,"s":"M","t":2.86,"v":0.172},{"w":0,"s":"M","t":2.92,"v":0.16},{"w":0,"s":"M","t":2.98,"v":0.129},{"w":0,"s":"M","t":3.05,"v":0.12},{"w":0,"s":"M","t":3.11,"v":0.163},{"w":0,"s":"M","t":3.18,"v":0.15},{"w":0,"s":"M","t":3.24,"v":0.108},{"w":0,"s":"M","t":3.3,"v":0.09},{"w":0,"s":"M","t":3.37,"v":0.151},{"w":0,"s":"M","t":3.43,"v":0.12},{"w":0,"s":"M","t":3.49,"v":0.065},{"w":0,"s":"M","t":3.56,"v":0.08},{"w":0,"s":"M","t":3.62,"v":0.108},{"w":0,"s":"M","t":3.69,"v":0.1},{"w":0,"s":"M","t":3.75,"v":0.065},{"w":0,"s":"M","t":3.81,"v":0.05},{"w":0,"s":"M","t":3.88,"v":0.086},{"w":0,"s":"M","t":3.94,"v":0.09},{"w":0,"s":"M","t":4.0,"v":0.065},{"w":0,"s":"M","t":4.07,"v":0.05},{"w":0,"s":"M","t":4.13,"v":0.108},{"w":0,"s":"M","t":4.19,"v":0.1},{"w":0,"s":"M","t":4.26,"v":0.065},{"w":0,"s":"M","t":4.32,"v":0.07},{"w":0,"s":"M","t":4.38,"v":0.086},{"w":0,"s":"M","t":4.45,"v":0.09},{"w":0,"s":"M","t":4.51,"v":0.052},{"w":0,"s":"M","t":4.57,"v":0.06},{"w":0,"s":"M","t":4.64,"v":0.108},{"w":0,"s":"M","t":4.7,"v":0.1},{"w":0,"s":"M","t":4.77,"v":0.086},{"w":0,"s":"M","t":4.83,"v":0.05},{"w":0,"s":"M","t":4.89,"v":0.065},{"w":0,"s":"M","t":4.96,"v":0.1},{"w":0,"s":"M","t":5.02,"v":0.077},{"w":0,"s":"M","t":5.08,"v":0.06},{"w":0,"s":"M","t":5.15,"v":0.138},{"w":0,"s":"M","t":5.21,"v":0.09},{"w":0,"s":"M","t":5.27,"v":0.065},{"w":0,"s":"M","t":5.34,"v":0.11},{"w":0,"s":"M","t":5.4,"v":0.086},{"w":0,"s":"M","t":5.46,"v":0.07},{"w":0,"s":"M","t":5.53,"v":0.108},{"w":0,"s":"M","t":5.59,"v":0.1},{"w":0,"s":"M","t":5.66,"v":0.129},{"w":0,"s":"M","t":5.72,"v":0.08},{"w":0,"s":"M","t":5.78,"v":0.077},{"w":0,"s":"M","t":5.85,"v":0.12},{"w":0,"s":"M","t":5.91,"v":0.095},{"w":0,"s":"M","t":6.0,"v":0.065},
{"w":1,"s":"B","t":-0.52,"v":0.1},{"w":1,"s":"B","t":-0.3,"v":0.15},{"w":1,"s":"B","t":-0.1,"v":0.2},{"w":1,"s":"B","t":0,"v":0.2},{"w":1,"s":"B","t":0.02,"v":1.3},{"w":1,"s":"B","t":0.07,"v":4.7},{"w":1,"s":"B","t":0.11,"v":5.1},{"w":1,"s":"B","t":0.16,"v":4.3},{"w":1,"s":"B","t":0.21,"v":3.9},{"w":1,"s":"B","t":0.27,"v":3.0},{"w":1,"s":"B","t":0.34,"v":6.4},{"w":1,"s":"B","t":0.39,"v":17.2},{"w":1,"s":"B","t":0.43,"v":29.2},{"w":1,"s":"B","t":0.46,"v":31.7},{"w":1,"s":"B","t":0.5,"v":33.7},{"w":1,"s":"B","t":0.53,"v":31.7},{"w":1,"s":"B","t":0.56,"v":30},{"w":1,"s":"B","t":0.59,"v":29.8},{"w":1,"s":"B","t":0.62,"v":23.6},{"w":1,"s":"B","t":0.66,"v":14.2},{"w":1,"s":"B","t":0.69,"v":6.4},{"w":1,"s":"B","t":0.73,"v":3.0},{"w":1,"s":"B","t":0.78,"v":1.7},{"w":1,"s":"B","t":0.91,"v":1.07},{"w":1,"s":"B","t":1.1,"v":0.77},{"w":1,"s":"B","t":1.29,"v":0.56},{"w":1,"s":"B","t":1.48,"v":0.43},{"w":1,"s":"B","t":1.74,"v":0.56},{"w":1,"s":"B","t":1.99,"v":0.77},{"w":1,"s":"B","t":2.25,"v":0.77},{"w":1,"s":"B","t":2.56,"v":0.64},{"w":1,"s":"B","t":2.88,"v":0.64},{"w":1,"s":"B","t":3.2,"v":0.56},{"w":1,"s":"B","t":3.52,"v":0.52},{"w":1,"s":"B","t":3.84,"v":0.56},{"w":1,"s":"B","t":4.15,"v":0.6},{"w":1,"s":"B","t":4.47,"v":0.6},{"w":1,"s":"B","t":4.79,"v":0.56},{"w":1,"s":"B","t":5.11,"v":0.56},{"w":1,"s":"B","t":5.43,"v":0.6},{"w":1,"s":"B","t":5.74,"v":0.6},{"w":1,"s":"B","t":6.0,"v":0.56},
{"w":1,"s":"N","t":-0.52,"v":0.043},{"w":1,"s":"N","t":-0.43,"v":0.021},{"w":1,"s":"N","t":-0.3,"v":0.051},{"w":1,"s":"N","t":-0.17,"v":0.021},{"w":1,"s":"N","t":0,"v":0.021},{"w":1,"s":"N","t":0.08,"v":0.086},{"w":1,"s":"N","t":0.11,"v":0.15},{"w":1,"s":"N","t":0.18,"v":0.107},{"w":1,"s":"N","t":0.27,"v":0.077},{"w":1,"s":"N","t":0.37,"v":0.129},{"w":1,"s":"N","t":0.43,"v":0.215},{"w":1,"s":"N","t":0.53,"v":0.279},{"w":1,"s":"N","t":0.59,"v":0.322},{"w":1,"s":"N","t":0.64,"v":0.258},{"w":1,"s":"N","t":0.69,"v":0.3},{"w":1,"s":"N","t":0.75,"v":0.236},{"w":1,"s":"N","t":0.81,"v":0.258},{"w":1,"s":"N","t":0.88,"v":0.193},{"w":1,"s":"N","t":0.94,"v":0.172},{"w":1,"s":"N","t":1.04,"v":0.193},{"w":1,"s":"N","t":1.13,"v":0.172},{"w":1,"s":"N","t":1.23,"v":0.215},{"w":1,"s":"N","t":1.32,"v":0.236},{"w":1,"s":"N","t":1.42,"v":0.266},{"w":1,"s":"N","t":1.51,"v":0.236},{"w":1,"s":"N","t":1.61,"v":0.279},{"w":1,"s":"N","t":1.7,"v":0.236},{"w":1,"s":"N","t":1.8,"v":0.258},{"w":1,"s":"N","t":1.9,"v":0.236},{"w":1,"s":"N","t":1.99,"v":0.223},{"w":1,"s":"N","t":2.09,"v":0.249},{"w":1,"s":"N","t":2.18,"v":0.215},{"w":1,"s":"N","t":2.28,"v":0.279},{"w":1,"s":"N","t":2.37,"v":0.258},{"w":1,"s":"N","t":2.47,"v":0.236},{"w":1,"s":"N","t":2.56,"v":0.215},{"w":1,"s":"N","t":2.66,"v":0.193},{"w":1,"s":"N","t":2.75,"v":0.223},{"w":1,"s":"N","t":2.85,"v":0.172},{"w":1,"s":"N","t":2.95,"v":0.193},{"w":1,"s":"N","t":3.04,"v":0.163},{"w":1,"s":"N","t":3.14,"v":0.18},{"w":1,"s":"N","t":3.23,"v":0.15},{"w":1,"s":"N","t":3.33,"v":0.172},{"w":1,"s":"N","t":3.42,"v":0.15},{"w":1,"s":"N","t":3.52,"v":0.163},{"w":1,"s":"N","t":3.61,"v":0.129},{"w":1,"s":"N","t":3.71,"v":0.137},{"w":1,"s":"N","t":3.8,"v":0.107},{"w":1,"s":"N","t":3.9,"v":0.129},{"w":1,"s":"N","t":3.99,"v":0.12},{"w":1,"s":"N","t":4.09,"v":0.095},{"w":1,"s":"N","t":4.19,"v":0.12},{"w":1,"s":"N","t":4.28,"v":0.086},{"w":1,"s":"N","t":4.38,"v":0.107},{"w":1,"s":"N","t":4.47,"v":0.064},{"w":1,"s":"N","t":4.57,"v":0.095},{"w":1,"s":"N","t":4.66,"v":0.064},{"w":1,"s":"N","t":4.76,"v":0.086},{"w":1,"s":"N","t":4.85,"v":0.051},{"w":1,"s":"N","t":4.95,"v":0.077},{"w":1,"s":"N","t":5.04,"v":0.051},{"w":1,"s":"N","t":5.14,"v":0.064},{"w":1,"s":"N","t":5.24,"v":0.021},{"w":1,"s":"N","t":5.33,"v":0.064},{"w":1,"s":"N","t":5.43,"v":0.043},{"w":1,"s":"N","t":5.52,"v":0.051},{"w":1,"s":"N","t":5.62,"v":0.034},{"w":1,"s":"N","t":5.71,"v":0.064},{"w":1,"s":"N","t":5.81,"v":0.043},{"w":1,"s":"N","t":5.9,"v":0.034},{"w":1,"s":"N","t":6.0,"v":0.051},
{"w":1,"s":"M","t":-0.522,"v":0.41},{"w":1,"s":"M","t":-0.503,"v":0.02},{"w":1,"s":"M","t":-0.458,"v":0.43},{"w":1,"s":"M","t":-0.426,"v":0.13},{"w":1,"s":"M","t":-0.394,"v":0.34},{"w":1,"s":"M","t":-0.363,"v":0.15},{"w":1,"s":"M","t":-0.331,"v":0.3},{"w":1,"s":"M","t":-0.299,"v":0.02},{"w":1,"s":"M","t":-0.267,"v":0.43},{"w":1,"s":"M","t":-0.235,"v":0.21},{"w":1,"s":"M","t":-0.204,"v":0.02},{"w":1,"s":"M","t":-0.172,"v":0.3},{"w":1,"s":"M","t":-0.14,"v":0.04},{"w":1,"s":"M","t":-0.108,"v":0.41},{"w":1,"s":"M","t":-0.076,"v":0.06},{"w":1,"s":"M","t":-0.045,"v":0},{"w":1,"s":"M","t":-0.013,"v":0.13},{"w":1,"s":"M","t":0.019,"v":0.34},{"w":1,"s":"M","t":0.051,"v":0.06},{"w":1,"s":"M","t":0.083,"v":0.3},{"w":1,"s":"M","t":0.115,"v":0.73},{"w":1,"s":"M","t":0.134,"v":1.18},{"w":1,"s":"M","t":0.159,"v":0.56},{"w":1,"s":"M","t":0.197,"v":0.34},{"w":1,"s":"M","t":0.229,"v":0.77},{"w":1,"s":"M","t":0.261,"v":0.3},{"w":1,"s":"M","t":0.293,"v":0.69},{"w":1,"s":"M","t":0.324,"v":0.26},{"w":1,"s":"M","t":0.356,"v":0.73},{"w":1,"s":"M","t":0.388,"v":0.39},{"w":1,"s":"M","t":0.413,"v":1.07},{"w":1,"s":"M","t":0.445,"v":0.6},{"w":1,"s":"M","t":0.477,"v":0.82},{"w":1,"s":"M","t":0.515,"v":0.73},{"w":1,"s":"M","t":0.547,"v":0.99},{"w":1,"s":"M","t":0.579,"v":0.64},{"w":1,"s":"M","t":0.604,"v":0.99},{"w":1,"s":"M","t":0.636,"v":0.6},{"w":1,"s":"M","t":0.668,"v":0.94},{"w":1,"s":"M","t":0.7,"v":0.73},{"w":1,"s":"M","t":0.732,"v":1.07},{"w":1,"s":"M","t":0.763,"v":0.82},{"w":1,"s":"M","t":0.795,"v":1.16},{"w":1,"s":"M","t":0.827,"v":1.39},{"w":1,"s":"M","t":0.859,"v":0.99},{"w":1,"s":"M","t":0.891,"v":1.07},{"w":1,"s":"M","t":0.922,"v":0.56},{"w":1,"s":"M","t":0.954,"v":0.99},{"w":1,"s":"M","t":0.986,"v":0.64},{"w":1,"s":"M","t":1.018,"v":0.9},{"w":1,"s":"M","t":1.05,"v":0.43},{"w":1,"s":"M","t":1.081,"v":0.82},{"w":1,"s":"M","t":1.113,"v":0.56},{"w":1,"s":"M","t":1.145,"v":0.9},{"w":1,"s":"M","t":1.177,"v":0.39},{"w":1,"s":"M","t":1.209,"v":0.77},{"w":1,"s":"M","t":1.24,"v":0.47},{"w":1,"s":"M","t":1.272,"v":0.64},{"w":1,"s":"M","t":1.304,"v":0.34},{"w":1,"s":"M","t":1.336,"v":0.69},{"w":1,"s":"M","t":1.368,"v":0.47},{"w":1,"s":"M","t":1.399,"v":0.75},{"w":1,"s":"M","t":1.431,"v":0.43},{"w":1,"s":"M","t":1.463,"v":0.69},{"w":1,"s":"M","t":1.495,"v":0.34},{"w":1,"s":"M","t":1.527,"v":0.64},{"w":1,"s":"M","t":1.559,"v":0.39},{"w":1,"s":"M","t":1.59,"v":0.56},{"w":1,"s":"M","t":1.622,"v":0.3},{"w":1,"s":"M","t":1.641,"v":0.75},{"w":1,"s":"M","t":1.673,"v":0.04},{"w":1,"s":"M","t":1.705,"v":0.39},{"w":1,"s":"M","t":1.737,"v":0.21},{"w":1,"s":"M","t":1.768,"v":0},{"w":1,"s":"M","t":1.8,"v":0.3},{"w":1,"s":"M","t":1.832,"v":0},{"w":1,"s":"M","t":1.864,"v":0.21},{"w":1,"s":"M","t":1.896,"v":0.34},{"w":1,"s":"M","t":1.927,"v":0.02},{"w":1,"s":"M","t":1.959,"v":0.3},{"w":1,"s":"M","t":1.991,"v":0.47},{"w":1,"s":"M","t":2.023,"v":0.21},{"w":1,"s":"M","t":2.055,"v":0.39},{"w":1,"s":"M","t":2.087,"v":0.06},{"w":1,"s":"M","t":2.118,"v":0.3},{"w":1,"s":"M","t":2.182,"v":0},{"w":1,"s":"M","t":2.214,"v":0.34},{"w":1,"s":"M","t":2.246,"v":0.21},{"w":1,"s":"M","t":2.277,"v":0.47},{"w":1,"s":"M","t":2.309,"v":0.51},{"w":1,"s":"M","t":2.341,"v":0.21},{"w":1,"s":"M","t":2.373,"v":0.49},{"w":1,"s":"M","t":2.405,"v":0.43},{"w":1,"s":"M","t":2.437,"v":0.51},{"w":1,"s":"M","t":2.468,"v":0.21},{"w":1,"s":"M","t":2.5,"v":0.39},{"w":1,"s":"M","t":2.532,"v":0.02},{"w":1,"s":"M","t":2.564,"v":0.3},{"w":1,"s":"M","t":2.595,"v":0.39},{"w":1,"s":"M","t":2.627,"v":0.13},{"w":1,"s":"M","t":2.659,"v":0.34},{"w":1,"s":"M","t":2.691,"v":0.02},{"w":1,"s":"M","t":2.723,"v":0.3},{"w":1,"s":"M","t":2.754,"v":0.17},{"w":1,"s":"M","t":2.786,"v":0.04},{"w":1,"s":"M","t":2.818,"v":0.26},{"w":1,"s":"M","t":2.85,"v":0},{"w":1,"s":"M","t":2.882,"v":0.47},{"w":1,"s":"M","t":2.913,"v":0.21},{"w":1,"s":"M","t":2.945,"v":0.13},{"w":1,"s":"M","t":2.977,"v":0.34},{"w":1,"s":"M","t":3.009,"v":0.02},{"w":1,"s":"M","t":3.041,"v":0.26},{"w":1,"s":"M","t":3.073,"v":0.13},{"w":1,"s":"M","t":3.136,"v":0.24},{"w":1,"s":"M","t":3.2,"v":0.41},{"w":1,"s":"M","t":3.232,"v":0.02},{"w":1,"s":"M","t":3.263,"v":0.3},{"w":1,"s":"M","t":3.295,"v":0.17},{"w":1,"s":"M","t":3.327,"v":0.34},{"w":1,"s":"M","t":3.359,"v":0.43},{"w":1,"s":"M","t":3.391,"v":0.04},{"w":1,"s":"M","t":3.422,"v":0.26},{"w":1,"s":"M","t":3.454,"v":0},{"w":1,"s":"M","t":3.486,"v":0.13},{"w":1,"s":"M","t":3.518,"v":0.21},{"w":1,"s":"M","t":3.581,"v":0.04},{"w":1,"s":"M","t":3.613,"v":0.26},{"w":1,"s":"M","t":3.645,"v":0.06},{"w":1,"s":"M","t":3.677,"v":0.3},{"w":1,"s":"M","t":3.709,"v":0.02},{"w":1,"s":"M","t":3.74,"v":0.21},{"w":1,"s":"M","t":3.772,"v":0.3},{"w":1,"s":"M","t":3.804,"v":0.09},{"w":1,"s":"M","t":3.836,"v":0.3},{"w":1,"s":"M","t":3.868,"v":0.13},{"w":1,"s":"M","t":3.9,"v":0.28},{"w":1,"s":"M","t":3.963,"v":0.04},{"w":1,"s":"M","t":3.995,"v":0.21},{"w":1,"s":"M","t":4.027,"v":0.36},{"w":1,"s":"M","t":4.059,"v":0.09},{"w":1,"s":"M","t":4.09,"v":0.28},{"w":1,"s":"M","t":4.122,"v":0},{"w":1,"s":"M","t":4.154,"v":0.34},{"w":1,"s":"M","t":4.186,"v":0.17},{"w":1,"s":"M","t":4.218,"v":0.36},{"w":1,"s":"M","t":4.249,"v":0.04},{"w":1,"s":"M","t":4.281,"v":0.34},{"w":1,"s":"M","t":4.313,"v":0.13},{"w":1,"s":"M","t":4.345,"v":0.24},{"w":1,"s":"M","t":4.377,"v":0.04},{"w":1,"s":"M","t":4.408,"v":0.21},{"w":1,"s":"M","t":4.44,"v":0.3},{"w":1,"s":"M","t":4.472,"v":0.09},{"w":1,"s":"M","t":4.504,"v":0.3},{"w":1,"s":"M","t":4.536,"v":0},{"w":1,"s":"M","t":4.567,"v":0.26},{"w":1,"s":"M","t":4.599,"v":0.06},{"w":1,"s":"M","t":4.631,"v":0.3},{"w":1,"s":"M","t":4.663,"v":0.13},{"w":1,"s":"M","t":4.695,"v":0.3},{"w":1,"s":"M","t":4.726,"v":0.02},{"w":1,"s":"M","t":4.758,"v":0.21},{"w":1,"s":"M","t":4.79,"v":0.06},{"w":1,"s":"M","t":4.822,"v":0.28},{"w":1,"s":"M","t":4.854,"v":0},{"w":1,"s":"M","t":4.885,"v":0.3},{"w":1,"s":"M","t":4.917,"v":0.09},{"w":1,"s":"M","t":4.949,"v":0.21},{"w":1,"s":"M","t":4.981,"v":0.02},{"w":1,"s":"M","t":5.013,"v":0.26},{"w":1,"s":"M","t":5.045,"v":0.09},{"w":1,"s":"M","t":5.076,"v":0.13},{"w":1,"s":"M","t":5.108,"v":0.26},{"w":1,"s":"M","t":5.14,"v":0},{"w":1,"s":"M","t":5.172,"v":0.21},{"w":1,"s":"M","t":5.204,"v":0.13},{"w":1,"s":"M","t":5.235,"v":0.3},{"w":1,"s":"M","t":5.267,"v":0.02},{"w":1,"s":"M","t":5.299,"v":0.24},{"w":1,"s":"M","t":5.331,"v":0.06},{"w":1,"s":"M","t":5.363,"v":0.15},{"w":1,"s":"M","t":5.394,"v":0},{"w":1,"s":"M","t":5.426,"v":0.39},{"w":1,"s":"M","t":5.458,"v":0.09},{"w":1,"s":"M","t":5.49,"v":0.21},{"w":1,"s":"M","t":5.522,"v":0.02},{"w":1,"s":"M","t":5.553,"v":0.26},{"w":1,"s":"M","t":5.585,"v":0.09},{"w":1,"s":"M","t":5.617,"v":0.28},{"w":1,"s":"M","t":5.649,"v":0.02},{"w":1,"s":"M","t":5.681,"v":0.21},{"w":1,"s":"M","t":5.713,"v":0.13},{"w":1,"s":"M","t":5.744,"v":0.24},{"w":1,"s":"M","t":5.776,"v":0.04},{"w":1,"s":"M","t":5.808,"v":0.34},{"w":1,"s":"M","t":5.84,"v":0.45},{"w":1,"s":"M","t":5.872,"v":0.09},{"w":1,"s":"M","t":5.903,"v":0.21},{"w":1,"s":"M","t":5.935,"v":0.02},{"w":1,"s":"M","t":5.967,"v":0.3},{"w":1,"s":"M","t":6.0,"v":0.34}
],
"annTop":[{"x":-0.82,"v":1258,"txt":"Cold Start"},{"x":7.13,"v":1258,"txt":"Warm Start"}],
"annBot":[{"x":-0.82,"v":36.1,"txt":"Cold Start"},{"x":7.13,"v":36.1,"txt":"Warm Start"},{"x":1.64,"v":-5.85,"txt":"Time (min)"},{"x":9.34,"v":-5.85,"txt":"Time (min)"},{"x":2.88,"v":29.4,"txt":"Benzene"},{"x":2.88,"v":25.53,"txt":"Napthalene"},{"x":2.88,"v":21.92,"txt":"2-Methylnapthalene"}],
"leg":[{"s":"B","x":1.81,"x2":2.765,"v":30.28},{"s":"N","x":1.81,"x2":2.765,"v":26.41},{"s":"M","x":1.81,"x2":2.765,"v":22.8}],
"brkTop":[{"x":6.36,"x2":6.11,"y":52.5,"y2":-55.6},{"x":6.56,"x2":6.31,"y":52.5,"y2":-55.6}],
"brkBot":[{"x":6.36,"x2":6.11,"y":0.345,"y2":-0.391},{"x":6.56,"x2":6.31,"y":0.345,"y2":-0.391}]
},
"vconcat":[
{
 "width":771,"height":311,
 "resolve":{"scale":{"y":"independent"},"axis":{"y":"independent"}},
 "layer":[
  {"data":{"name":"top"},
   "transform":[{"filter":"datum.s=='B'"},{"calculate":"datum.w==1?datum.t+7.7:datum.t","as":"x"}],
   "mark":{"type":"line","strokeWidth":1,"clip":true},
   "encoding":{
    "x":{"field":"x","type":"quantitative","scale":{"domain":[-1,13.7],"nice":false,"zero":false},"axis":{"values":[-1,-0.5,0,0.5,1,1.5,2,2.5,3,3.5,4,4.5,5,5.5,6,6.7,7.2,7.7,8.2,8.7,9.2,9.7,10.2,10.7,11.2,11.7,12.2,12.7,13.2,13.7],"tickCount":60,"labelExpr":"datum.value > 6.4 ? ((datum.value > 7.6 && abs((datum.value-7.7)/2 - round((datum.value-7.7)/2)) < 0.01) ? format(round(datum.value-7.7),'d') : '') : ((datum.value > -0.1 && abs(datum.value/2 - round(datum.value/2)) < 0.01) ? format(round(datum.value),'d') : '')","labels":true,"ticks":true,"title":null,"tickSize":3,"labelPadding":9,"labelFlush":false,"labelOverlap":false}},
    "y":{"field":"v","type":"quantitative","scale":{"domain":[0,1400],"nice":false,"zero":false},"axis":{"orient":"left","values":[0,200,400,600,800,1000,1200,1400],"tickCount":20,"format":"d","title":"Benzene Conc. (ppb)","tickSize":7,"labelPadding":1,"titlePadding":-2}},
    "color":{"field":"s","type":"nominal","scale":{"domain":["B","N","M"],"range":["#000000","#ff0000","#0000ff"]},"legend":null},
    "detail":{"field":"w","type":"nominal"}
   }},
  {"data":{"name":"top"},
   "transform":[{"filter":"datum.s!='B'"},{"calculate":"datum.w==1?datum.t+7.7:datum.t","as":"x"}],
   "mark":{"type":"line","strokeWidth":1,"clip":true},
   "encoding":{
    "x":{"field":"x","type":"quantitative"},
    "y":{"field":"v","type":"quantitative","scale":{"domain":[0,600],"nice":false,"zero":false},"axis":{"orient":"right","values":[0,100,200,300,400,500,600],"tickCount":20,"format":"d","title":"(methyl)Napthalene Conc. (ppb)","titleAngle":270,"titleBaseline":"top","tickSize":7,"labelPadding":0,"titlePadding":1}},
    "color":{"field":"s","type":"nominal","legend":null},
    "detail":{"field":"w","type":"nominal"}
   }},
  {"data":{"name":"annTop"},
   "mark":{"type":"text","align":"left","baseline":"alphabetic","fontSize":19.5,"font":"Liberation Sans","color":"black"},
   "encoding":{
    "x":{"field":"x","type":"quantitative"},
    "y":{"field":"v","type":"quantitative","scale":{"domain":[0,1400],"nice":false,"zero":false},"axis":{"orient":"left","values":[100,300,500,700,900,1100,1300],"tickCount":20,"tickSize":3,"labels":false,"domain":false,"title":null}},
    "text":{"field":"txt"}
   }},
  {"data":{"name":"brkTop"},
   "mark":{"type":"rule","color":"black","strokeWidth":1},
   "encoding":{
    "x":{"field":"x","type":"quantitative"},
    "x2":{"field":"x2"},
    "y":{"field":"y","type":"quantitative","scale":{"domain":[0,600],"nice":false,"zero":false},"axis":{"orient":"right","values":[50,150,250,350,450,550],"tickCount":20,"tickSize":3,"labels":false,"domain":false,"title":null}},
    "y2":{"field":"y2"}
   }}
 ]
},
{
 "width":771,"height":310,
 "resolve":{"scale":{"y":"independent"},"axis":{"y":"independent"}},
 "layer":[
  {"data":{"name":"bot"},
   "transform":[{"filter":"datum.s=='B'"},{"calculate":"datum.w==1?datum.t+7.7:datum.t","as":"x"}],
   "mark":{"type":"line","strokeWidth":1,"clip":true},
   "encoding":{
    "x":{"field":"x","type":"quantitative","scale":{"domain":[-1,13.7],"nice":false,"zero":false},"axis":{"values":[-1,-0.5,0,0.5,1,1.5,2,2.5,3,3.5,4,4.5,5,5.5,6,6.7,7.2,7.7,8.2,8.7,9.2,9.7,10.2,10.7,11.2,11.7,12.2,12.7,13.2,13.7],"tickCount":60,"labelExpr":"datum.value > 6.4 ? ((datum.value > 7.6 && abs((datum.value-7.7)/2 - round((datum.value-7.7)/2)) < 0.01) ? format(round(datum.value-7.7),'d') : '') : ((datum.value > -0.1 && abs(datum.value/2 - round(datum.value/2)) < 0.01) ? format(round(datum.value),'d') : '')","labels":true,"ticks":true,"title":null,"tickSize":3,"labelPadding":9,"labelFlush":false,"labelOverlap":false}},
    "y":{"field":"v","type":"quantitative","scale":{"domain":[0,40],"nice":false,"zero":false},"axis":{"orient":"left","values":[0,5,10,15,20,25,30,35,40],"tickCount":20,"format":"d","title":"Benzene Conc. (ppb)","tickSize":7,"labelPadding":1,"titlePadding":19}},
    "color":{"field":"s","type":"nominal","scale":{"domain":["B","N","M"],"range":["#000000","#ff0000","#0000ff"]},"legend":null},
    "detail":{"field":"w","type":"nominal"}
   }},
  {"data":{"name":"bot"},
   "transform":[{"filter":"datum.s!='B'"},{"calculate":"datum.w==1?datum.t+7.7:datum.t","as":"x"}],
   "mark":{"type":"line","strokeWidth":1,"clip":true},
   "encoding":{
    "x":{"field":"x","type":"quantitative"},
    "y":{"field":"v","type":"quantitative","scale":{"domain":[0,4],"nice":false,"zero":false},"axis":{"orient":"right","values":[0,1,2,3,4],"tickCount":20,"format":"d","title":"(methyl)Napthalene Conc. (ppb)","titleAngle":270,"titleBaseline":"top","tickSize":7,"labelPadding":0,"titlePadding":22}},
    "color":{"field":"s","type":"nominal","legend":null},
    "detail":{"field":"w","type":"nominal"}
   }},
  {"data":{"name":"leg"},
   "mark":{"type":"rule","strokeWidth":1},
   "encoding":{
    "x":{"field":"x","type":"quantitative"},
    "x2":{"field":"x2"},
    "y":{"field":"v","type":"quantitative","scale":{"domain":[0,40],"nice":false,"zero":false},"axis":null},
    "color":{"field":"s","type":"nominal","legend":null}
   }},
  {"data":{"name":"annBot"},
   "mark":{"type":"text","align":"left","baseline":"alphabetic","fontSize":19.5,"font":"Liberation Sans","color":"black"},
   "encoding":{
    "x":{"field":"x","type":"quantitative"},
    "y":{"field":"v","type":"quantitative","scale":{"domain":[0,40],"nice":false,"zero":false},"axis":{"orient":"left","values":[2.5,7.5,12.5,17.5,22.5,27.5,32.5,37.5],"tickCount":20,"tickSize":3,"labels":false,"domain":false,"title":null}},
    "text":{"field":"txt"}
   }},
  {"data":{"name":"brkBot"},
   "mark":{"type":"rule","color":"black","strokeWidth":1},
   "encoding":{
    "x":{"field":"x","type":"quantitative"},
    "x2":{"field":"x2"},
    "y":{"field":"y","type":"quantitative","scale":{"domain":[0,4],"nice":false,"zero":false},"axis":{"orient":"right","values":[0.5,1.5,2.5,3.5],"tickCount":20,"tickSize":3,"labels":false,"domain":false,"title":null}},
    "y2":{"field":"y2"}
   }}
 ]
}
]
}
